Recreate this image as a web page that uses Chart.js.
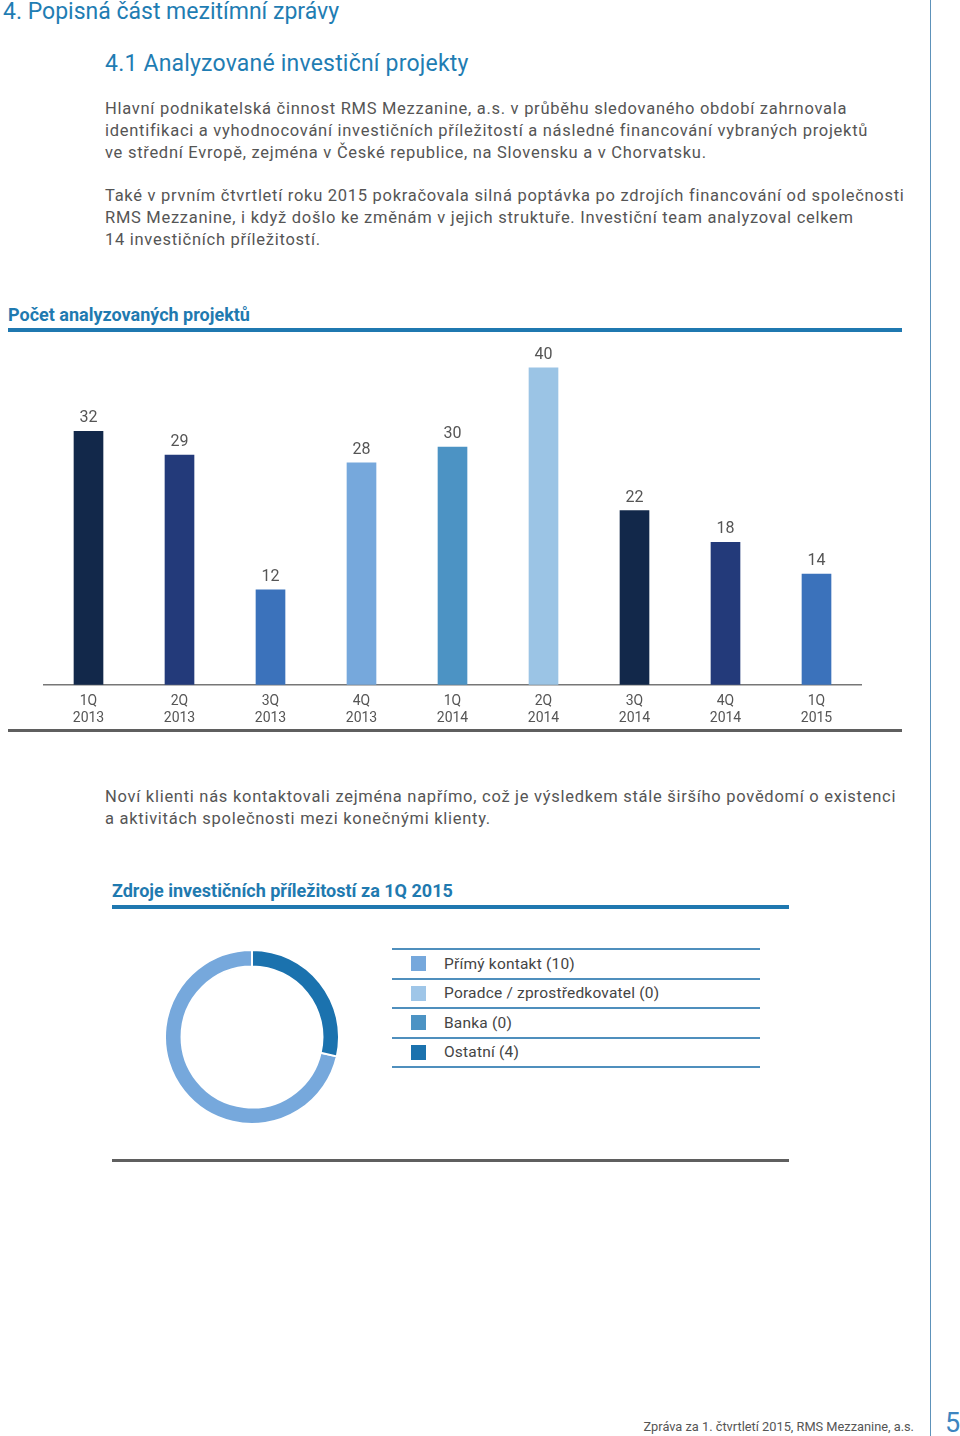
<!DOCTYPE html>
<html>
<head>
<meta charset="utf-8">
<script src="https://cdn.jsdelivr.net/npm/chart.js@4"></script>
<style>
  body { margin: 0; background: #fff; font-family: Roboto, "Noto Sans", sans-serif; color: #555; }
  .page { position: relative; width: 960px; height: 1436px; overflow: hidden; }
  .abs { position: absolute; white-space: nowrap; }
  .h1 { left: 3px; top: -2px; font-size: 23px; color: #1f7db3; }
  .h2 { left: 105px; top: 50px; font-size: 23px; color: #1f7db3; letter-spacing: 0.2px; }
  .p { left: 105px; font-size: 16.5px; line-height: 22px; color: #555; letter-spacing: 0.72px; }
  .ttl { font-weight: bold; font-size: 18px; color: #1f7ab0; }
  .bar { background: #1f78b0; height: 4px; }
  .gray { background: #5f5f5f; height: 3px; }
  #legend { left: 392px; top: 948px; width: 368px; }
  #legend .row { height: 27.5px; border-top: 2px solid #4f8fbd; display: flex; align-items: center; font-size: 15.5px; color: #444; letter-spacing: 0.2px; }
  #legend .row:last-child { border-bottom: 2px solid #4f8fbd; }
  #legend .sw { width: 15px; height: 15px; margin-left: 19px; margin-right: 18px; }
</style>
</head>
<body>
<div class="page">
  <div class="abs h1">4. Popisná část mezitímní zprávy</div>
  <div class="abs h2">4.1 Analyzované investiční projekty</div>
  <div class="abs p" style="top:98px">Hlavní podnikatelská činnost RMS Mezzanine, a.s. v průběhu sledovaného období zahrnovala<br>identifikaci a vyhodnocování investičních příležitostí a následné financování vybraných projektů<br>ve střední Evropě, zejména v České republice, na Slovensku a v Chorvatsku.</div>
  <div class="abs p" style="top:185px">Také v prvním čtvrtletí roku 2015 pokračovala silná poptávka po zdrojích financování od společnosti<br>RMS Mezzanine, i když došlo ke změnám v jejich struktuře. Investiční team analyzoval celkem<br>14 investičních příležitostí.</div>

  <div class="abs ttl" style="left:8px; top:304px">Počet analyzovaných projektů</div>
  <div class="abs bar" style="left:8px; top:328px; width:894px"></div>
  <div class="abs" style="left:43px; top:340px; width:819px; height:390px"><canvas id="barChart"></canvas></div>
  <div class="abs gray" style="left:8px; top:729px; width:894px"></div>

  <div class="abs p" style="top:786px">Noví klienti nás kontaktovali zejména napřímo, což je výsledkem stále širšího povědomí o existenci<br>a aktivitách společnosti mezi konečnými klienty.</div>

  <div class="abs ttl" style="left:112px; top:880px">Zdroje investičních příležitostí za 1Q 2015</div>
  <div class="abs bar" style="left:112px; top:905px; width:677px"></div>
  <div class="abs" style="left:164px; top:949px; width:176px; height:176px"><canvas id="donut"></canvas></div>
  <div class="abs" id="legend"></div>
  <div class="abs gray" style="left:112px; top:1159px; width:677px"></div>

  <div class="abs" style="left:930px; top:0; width:1px; height:1436px; background:#5d92ba"></div>
  <div class="abs" style="right:46px; top:1419px; font-size:12.8px; color:#555">Zpráva za 1. čtvrtletí 2015, RMS Mezzanine, a.s.</div>
  <div class="abs" style="left:945px; top:1407px; font-size:27px; color:#3d85c0">5</div>
</div>

<script>
// bar chart data
const quarters = [['1Q', '2013'], ['2Q', '2013'], ['3Q', '2013'], ['4Q', '2013'], ['1Q', '2014'], ['2Q', '2014'], ['3Q', '2014'], ['4Q', '2014'], ['1Q', '2015']];
const projectCounts = [32, 29, 12, 28, 30, 40, 22, 18, 14];
const barColors = ['#12284a', '#233a7a', '#3b72bb', '#76a8dc', '#4c93c4', '#9bc4e5', '#12284a', '#233a7a', '#3b72bb'];

// doughnut data
const sourceLabels = ['Přímý kontakt', 'Poradce / zprostředkovatel', 'Banka', 'Ostatní'];
const sourceValues = [10, 0, 0, 4];
const sourceColors = ['#76a8dc', '#9fc6e8', '#4c93c4', '#1b72ae'];

// value labels above the bars
const valueLabels = {
    id: 'valueLabels',
    afterDraw(chart) {
        const ctx = chart.ctx;
        const meta = chart.getDatasetMeta(0);
        ctx.save();
        ctx.font = '16px Roboto';
        ctx.fillStyle = '#555';
        ctx.textAlign = 'center';
        ctx.textBaseline = 'middle';
        meta.data.forEach((bar, i) => {
            ctx.fillText(projectCounts[i], bar.x, bar.y - 13);
        });
        ctx.restore();
    }
};

new Chart(document.getElementById('barChart'), {
    type: 'bar',
    data: {
        labels: quarters,
        datasets: [{
            data: projectCounts,
            backgroundColor: barColors,
            barThickness: 29
        }]
    },
    options: {
        responsive: true,
        maintainAspectRatio: false,
        animation: false,
        layout: { padding: 0 },
        plugins: { legend: { display: false }, tooltip: { enabled: false } },
        scales: {
            x: {
                z: 1,
                grid: { offset: false, color: 'rgba(255,255,255,0.3)', drawTicks: false },
                border: { display: true, color: '#777', width: 1.5 },
                ticks: { color: '#555', font: { size: 14, family: 'Roboto' }, padding: 8 },
                afterFit: function (scale) { scale.height = 45; }
            },
            y: {
                z: 1,
                min: 0,
                max: 43.5,
                ticks: { display: false, stepSize: 3.15 },
                grid: { color: 'rgba(255,255,255,0.3)', drawTicks: false },
                border: { display: false },
                afterFit: function (scale) { scale.width = 0; }
            }
        }
    },
    plugins: [valueLabels]
});

new Chart(document.getElementById('donut'), {
    type: 'doughnut',
    data: {
        labels: sourceLabels,
        datasets: [{
            data: sourceValues,
            backgroundColor: sourceColors,
            borderColor: '#fff',
            borderWidth: 2
        }]
    },
    options: {
        responsive: true,
        maintainAspectRatio: false,
        animation: false,
        cutout: '81%',
        rotation: 360 * sourceValues[3] / 14,
        plugins: { legend: { display: false }, tooltip: { enabled: false } }
    }
});

// legend with lines between rows
const legend = document.getElementById('legend');
sourceLabels.forEach((label, i) => {
    const row = document.createElement('div');
    row.className = 'row';
    row.innerHTML = '<span class="sw" style="background:' + sourceColors[i] + '"></span>' + label + ' (' + sourceValues[i] + ')';
    legend.appendChild(row);
});
</script>
</body>
</html>
